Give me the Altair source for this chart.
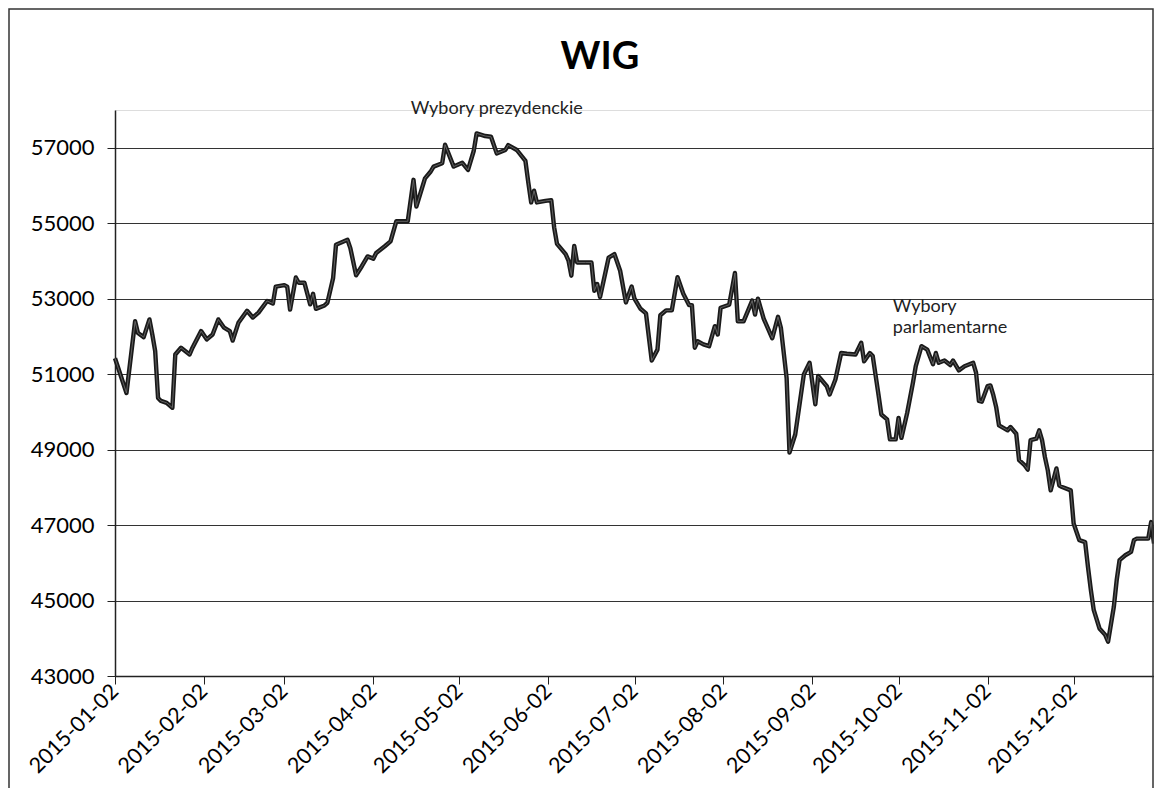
import altair as alt
import pandas as pd

# ---- data ----
dates = [
    "2015-01-02", "2015-01-06", "2015-01-09", "2015-01-10", "2015-01-12", "2015-01-14",
    "2015-01-15", "2015-01-16", "2015-01-17", "2015-01-18", "2015-01-20", "2015-01-22",
    "2015-01-23", "2015-01-25", "2015-01-28", "2015-01-29", "2015-02-01", "2015-02-03",
    "2015-02-05", "2015-02-07", "2015-02-09", "2015-02-11", "2015-02-12", "2015-02-14",
    "2015-02-17", "2015-02-19", "2015-02-21", "2015-02-24", "2015-02-26", "2015-02-27",
    "2015-03-02", "2015-03-03", "2015-03-04", "2015-03-06", "2015-03-07", "2015-03-09",
    "2015-03-11", "2015-03-12", "2015-03-13", "2015-03-16", "2015-03-17", "2015-03-19",
    "2015-03-20", "2015-03-24", "2015-03-25", "2015-03-27", "2015-03-29", "2015-03-31",
    "2015-04-02", "2015-04-03", "2015-04-06", "2015-04-08", "2015-04-10", "2015-04-14",
    "2015-04-16", "2015-04-17", "2015-04-20", "2015-04-22", "2015-04-23", "2015-04-26",
    "2015-04-27", "2015-04-30", "2015-05-03", "2015-05-05", "2015-05-07", "2015-05-08",
    "2015-05-11", "2015-05-13", "2015-05-15", "2015-05-18", "2015-05-19", "2015-05-22",
    "2015-05-25", "2015-05-26", "2015-05-27", "2015-05-28", "2015-05-29", "2015-06-01",
    "2015-06-03", "2015-06-04", "2015-06-05", "2015-06-08", "2015-06-09", "2015-06-10",
    "2015-06-11", "2015-06-12", "2015-06-15", "2015-06-17", "2015-06-18", "2015-06-19",
    "2015-06-20", "2015-06-22", "2015-06-23", "2015-06-25", "2015-06-27", "2015-06-29",
    "2015-07-01", "2015-07-02", "2015-07-04", "2015-07-06", "2015-07-08", "2015-07-10",
    "2015-07-11", "2015-07-13", "2015-07-15", "2015-07-17", "2015-07-19", "2015-07-21",
    "2015-07-22", "2015-07-23", "2015-07-24", "2015-07-26", "2015-07-28", "2015-07-30",
    "2015-07-31", "2015-08-01", "2015-08-04", "2015-08-06", "2015-08-07", "2015-08-09",
    "2015-08-12", "2015-08-13", "2015-08-14", "2015-08-16", "2015-08-19", "2015-08-21",
    "2015-08-22", "2015-08-24", "2015-08-25", "2015-08-27", "2015-08-28", "2015-08-30",
    "2015-09-01", "2015-09-03", "2015-09-04", "2015-09-07", "2015-09-08", "2015-09-10",
    "2015-09-12", "2015-09-14", "2015-09-17", "2015-09-19", "2015-09-20", "2015-09-22",
    "2015-09-23", "2015-09-25", "2015-09-26", "2015-09-28", "2015-09-29", "2015-10-01",
    "2015-10-02", "2015-10-03", "2015-10-05", "2015-10-07", "2015-10-08", "2015-10-10",
    "2015-10-12", "2015-10-14", "2015-10-15", "2015-10-16", "2015-10-18", "2015-10-20",
    "2015-10-21", "2015-10-23", "2015-10-25", "2015-10-28", "2015-10-29", "2015-10-30",
    "2015-10-31", "2015-11-02", "2015-11-03", "2015-11-04", "2015-11-05", "2015-11-06",
    "2015-11-09", "2015-11-10", "2015-11-12", "2015-11-13", "2015-11-15", "2015-11-16",
    "2015-11-17", "2015-11-19", "2015-11-20", "2015-11-21", "2015-11-22", "2015-11-23",
    "2015-11-24", "2015-11-26", "2015-11-27", "2015-11-28", "2015-12-01", "2015-12-02",
    "2015-12-04", "2015-12-06", "2015-12-07", "2015-12-08", "2015-12-09", "2015-12-11",
    "2015-12-13", "2015-12-14", "2015-12-16", "2015-12-17", "2015-12-18", "2015-12-20",
    "2015-12-22", "2015-12-23", "2015-12-24", "2015-12-28", "2015-12-29", "2015-12-30",
]
values = [
    51420, 50500, 52400, 52090, 51980, 52450,
    52050, 51610, 50370, 50290, 50240, 50110,
    51520, 51700, 51520, 51700, 52140, 51920,
    52050, 52450, 52230, 52140, 51890, 52360,
    52680, 52500, 52630, 52940, 52870, 53320,
    53360, 53320, 52710, 53560, 53420, 53420,
    52850, 53130, 52730, 52820, 52890, 53550,
    54430, 54560, 54340, 53620, 53860, 54120,
    54060, 54210, 54390, 54520, 55050, 55050,
    56150, 55440, 56190, 56370, 56500, 56590,
    57080, 56500, 56600, 56410, 56920, 57380,
    57310, 57290, 56850, 56940, 57070, 56940,
    56650, 56080, 55550, 55860, 55550, 55590,
    55610, 54890, 54450, 54180, 54010, 53610,
    54400, 53960, 53960, 53960, 53210, 53390,
    53040, 53740, 54090, 54180, 53740, 52900,
    53320, 53000, 52740, 52610, 51360, 51650,
    52560, 52690, 52690, 53570, 53130, 52830,
    52830, 51700, 51870, 51790, 51740, 52270,
    52050, 52760, 52840, 53680, 52400, 52400,
    52950, 52580, 53000, 52470, 51950, 52520,
    52230, 50900, 48920, 49400, 49930, 50990,
    51300, 50200, 50950, 50680, 50460, 50860,
    51560, 51540, 51520, 51830, 51340, 51560,
    51480, 50460, 49930, 49800, 49270, 49270,
    49840, 49310, 49970, 50770, 51210, 51740,
    51650, 51260, 51560, 51300, 51360, 51240,
    51360, 51100, 51210, 51300, 51040, 50290,
    50270, 50680, 50700, 50450, 50130, 49640,
    49510, 49600, 49420, 48720, 48580, 48470,
    49250, 49290, 49510, 49250, 48800, 48450,
    47920, 48500, 48050, 48010, 47920, 47040,
    46600, 46550, 45890, 45280, 44750, 44260,
    44090, 43910, 44830, 45540, 46070, 46200,
    46290, 46600, 46640, 46640, 47080, 46510,
]

tick_labels = [
    "2015-01-02", "2015-02-02", "2015-03-02", "2015-04-02", "2015-05-02", "2015-06-02",
    "2015-07-02", "2015-08-02", "2015-09-02", "2015-10-02", "2015-11-02", "2015-12-02",
]
x_domain = ["2015-01-02", "2015-12-30"]
y_ticks = [43000, 45000, 47000, 49000, 51000, 53000, 55000, 57000]
y_domain = [43000, 58000]

title_text = ["WIG"]
pres_dates = ["2015-05-15"]
pres_values = [58030]
pres_texts = ["Wybory prezydenckie"]
parl_dates = ["2015-09-30", "2015-09-30"]
parl_values = [52790, 52230]
parl_texts = ["Wybory", "parlamentarne"]


def ms(s):
    return int(pd.Timestamp(s, tz="UTC").timestamp() * 1000)


df = pd.DataFrame({"date": dates, "value": values})
pres_df = pd.DataFrame({"date": pres_dates, "value": pres_values, "label": pres_texts})
parl_df = pd.DataFrame({"date": parl_dates, "value": parl_values, "label": parl_texts})
title_df = pd.DataFrame({"label": title_text})

x_enc = alt.X(
    "date:T",
    scale=alt.Scale(type="utc", domain=[ms(d) for d in x_domain]),
    axis=alt.Axis(
        values=[ms(s) for s in tick_labels],
        labelExpr="utcFormat(datum.value, '%Y-%m-%d')",
        labelAngle=-45,
        labelAlign="right",
        labelBaseline="middle",
        labelFont="Lato",
        labelFontSize=21.5,
        labelColor="black",
        labelPadding=4,
        labelOverlap=False,
        tickSize=8,
        tickColor="#222",
        domainColor="#222",
        domainWidth=1.5,
        grid=False,
    ),
    title=None,
)
y_enc = alt.Y(
    "value:Q",
    scale=alt.Scale(domain=y_domain, nice=False, zero=False),
    axis=alt.Axis(
        values=y_ticks,
        format="d",
        labelFont="Lato",
        labelFontSize=22,
        labelColor="black",
        labelPadding=13,
        tickSize=8,
        tickColor="#222",
        domainColor="#222",
        domainWidth=1.5,
        grid=True,
        gridColor="#333",
        gridWidth=1,
    ),
    title=None,
)

line_dark = alt.Chart(df).mark_line(color="#1a1a1a", strokeWidth=4.4, strokeJoin="round").encode(
    x=x_enc, y=y_enc
)
line_gray = alt.Chart(df).mark_line(color="#6a6a6a", strokeWidth=0.9, strokeJoin="round").encode(
    x=x_enc, y=y_enc
)

pres = alt.Chart(pres_df).mark_text(
    font="Lato", fontSize=18, color="#222", align="center", baseline="middle"
).encode(x=x_enc, y=y_enc, text="label:N")

parl = alt.Chart(parl_df).mark_text(
    font="Lato", fontSize=18, color="#222", align="left", baseline="middle"
).encode(x=x_enc, y=y_enc, text="label:N")

title = alt.Chart(title_df).mark_text(
    font="Lato", fontSize=38, fontWeight="bold", color="black", align="center", baseline="middle"
).encode(x=alt.value(485), y=alt.value(-52), text="label:N")

frame = alt.Chart(alt.Data(values=[{"f": 1}])).mark_rect(
    fillOpacity=0, stroke="#333", strokeWidth=1.5
).encode(
    x=alt.value(-106), x2=alt.value(1038), y=alt.value(-101), y2=alt.value(720)
)

chart = (
    alt.layer(line_dark, line_gray, pres, parl, title, frame)
    .properties(
        width=1039,
        height=566,
        padding={"left": 107, "top": 102, "right": 0, "bottom": 112},
        autosize=alt.AutoSizeParams(type="none"),
    )
    .configure_view(stroke=None)
    .configure(background="white")
)

chart.save("out.html", embed_options={"renderer": "svg", "actions": False})
